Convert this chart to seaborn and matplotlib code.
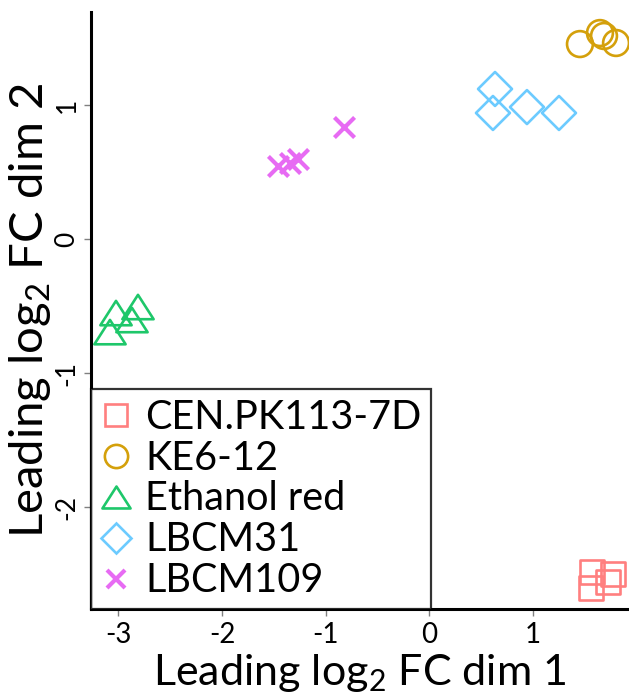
import matplotlib
matplotlib.use("Agg")
import matplotlib.pyplot as plt
import seaborn as sns
import pandas as pd
from matplotlib.lines import Line2D
from matplotlib.path import Path

# ---- data ----
groups = ["CEN.PK113-7D", "KE6-12", "Ethanol red", "LBCM31", "LBCM109"]
cen_x = [1.567, 1.557, 1.721, 1.770]
cen_y = [-2.483, -2.603, -2.558, -2.498]
ke_x = [1.451, 1.644, 1.683, 1.799]
ke_y = [1.454, 1.536, 1.514, 1.462]
eth_x = [-3.023, -2.811, -3.081, -2.869]
eth_y = [-0.552, -0.507, -0.694, -0.604]
lb31_x = [0.632, 0.612, 0.940, 1.249]
lb31_y = [1.119, 0.940, 0.984, 0.940]
lb109_x = [-1.461, -1.345, -1.268, -0.824]
lb109_y = [0.544, 0.567, 0.597, 0.835]
x_ticks = [-3, -2, -1, 0, 1]
y_ticks = [-2, -1, 0, 1]

colors = ["#FF7F7F", "#D4A00B", "#1EC76A", "#6CCBFF", "#E76BF3"]
tri = Path([(-1, -0.78), (1, -0.78), (0, 0.78), (-1, -0.78)], closed=True)
markers = ["s", "o", tri, "D", "x"]
msizes = [17.6, 18.6, 22.5, 17.3, 14.5]
lws = [1.9, 1.9, 1.9, 1.9, 3.0]

xs = [cen_x, ke_x, eth_x, lb31_x, lb109_x]
ys = [cen_y, ke_y, eth_y, lb31_y, lb109_y]
df = pd.concat([pd.DataFrame({"x": a, "y": b, "group": g}) for a, b, g in zip(xs, ys, groups)])

sns.set_style("white")
FONT = "Lato"
plt.rcParams["font.family"] = [FONT, "DejaVu Sans"]
plt.rcParams["mathtext.default"] = "regular"
plt.rcParams["mathtext.fontset"] = "custom"
plt.rcParams["mathtext.rm"] = FONT
plt.rcParams["text.color"] = "black"
plt.rcParams["axes.labelcolor"] = "black"

fig = plt.figure(figsize=(6.29, 6.98), dpi=100)
ax = fig.add_axes([90.7 / 629, 1 - 609.3 / 698, 1 - 90.7 / 629, (609.3 - 12) / 698])

for g, c, m, ms, lw in zip(groups, colors, markers, msizes, lws):
    sub = df[df["group"] == g]
    if isinstance(m, str) and m == "x":
        sns.scatterplot(data=sub, x="x", y="y", marker=m, s=ms ** 2, color=c,
                        linewidth=lw, ax=ax, legend=False, clip_on=True)
    else:
        sns.scatterplot(data=sub, x="x", y="y", marker=m, s=ms ** 2, color=c,
                        facecolor="none", edgecolor=c, linewidth=lw, ax=ax,
                        legend=False, clip_on=True)

ax.set_xlim(-3.267, 1.924)
ax.set_ylim(-2.761, 1.693)
ax.set_xticks(x_ticks)
ax.set_yticks(y_ticks)
ax.set_xticklabels([str(t) for t in x_ticks])
ax.set_yticklabels([str(t) for t in y_ticks], rotation=90, va="center")

for s in ["top", "right"]:
    ax.spines[s].set_visible(False)
for s in ["left", "bottom"]:
    ax.spines[s].set_color("black")
    ax.spines[s].set_linewidth(2.2)

ax.tick_params(axis="both", which="major", length=5, width=1, color="#808080",
               labelcolor="black", labelsize=20, direction="out", pad=4,
               left=True, bottom=True)
ax.tick_params(axis="y", pad=3, labelsize=19)

ax.set_xlabel("Leading log$_2$ FC dim 1", fontsize=31, labelpad=3)
ax.set_ylabel("Leading log$_2$ FC dim 2", fontsize=34, labelpad=1)

handles = [Line2D([], [], linestyle="none", marker=m, markersize=ms * 0.9,
                  markerfacecolor="none" if not (isinstance(m, str) and m == "x") else c,
                  markeredgecolor=c, markeredgewidth=lw, color=c)
           for m, c, ms, lw in zip(markers, colors, msizes, lws)]
leg = ax.legend(handles, groups, loc="lower left", bbox_to_anchor=(0, 0),
                borderaxespad=0, frameon=True, fancybox=False, fontsize=28.5,
                handlelength=0.8, handletextpad=0.32, labelspacing=0.1,
                borderpad=0.25)
leg.get_frame().set_edgecolor("black")
leg.get_frame().set_linewidth(1.6)
for t in leg.get_texts():
    t.set_color("black")

fig.savefig("out.png", dpi=100)
